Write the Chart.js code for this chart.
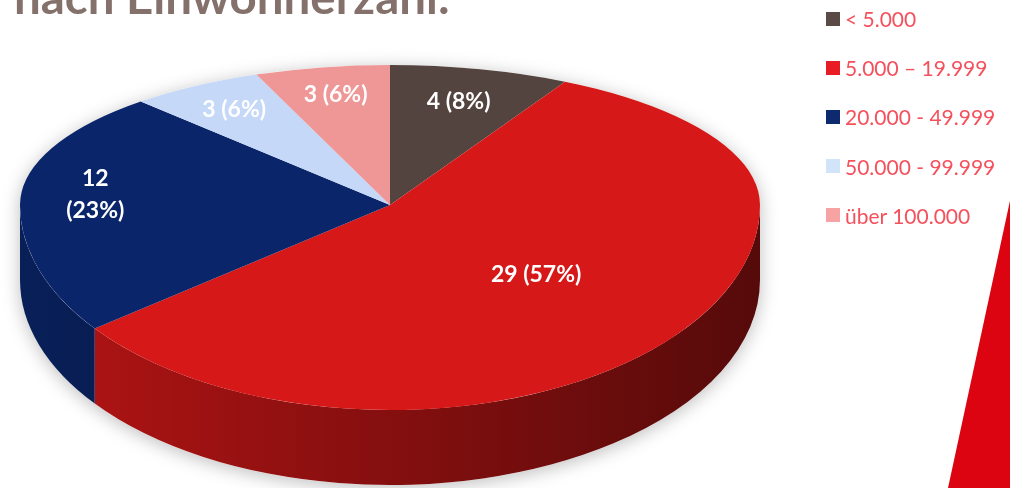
<!DOCTYPE html>
<html><head><meta charset="utf-8">
<script src="https://cdn.jsdelivr.net/npm/chart.js@4.4.1/dist/chart.umd.min.js"></script>
<style>
html,body{margin:0;padding:0;background:#fff;}
#wrap{position:relative;width:1010px;height:488px;overflow:hidden;background:#fff;}
#c{position:absolute;left:0;top:0;}
#title{position:absolute;left:0;top:0;}
#legend{position:absolute;left:826px;top:0;width:184px;height:240px;font-family:Lato,'Open Sans',sans-serif;font-size:21px;color:#F4515D;}
.li{position:absolute;left:0;height:14px;display:flex;align-items:center;white-space:nowrap;}
.sw{width:14px;height:14px;margin-right:5px;flex:none;}
#deco{position:absolute;left:0;top:0;width:1010px;height:488px;clip-path:polygon(1011px 196px,1011px 488px,948px 488px);background:#DC0411;}
</style></head>
<body>
<div id="wrap">
  <canvas id="c" width="1010" height="488"></canvas>
  <svg id="title" width="1010" height="40"><text x="14" y="13.5" font-family="Lato" font-weight="700" font-size="46" fill="#85716C" textLength="436" lengthAdjust="spacingAndGlyphs">nach Einwohnerzahl:</text></svg>
  <div id="legend"></div>
  <div id="deco"></div>
</div>
<script>
// ---- data ----
const categories = ['< 5.000', '5.000 – 19.999', '20.000 - 49.999', '50.000 - 99.999', 'über 100.000'];
const counts = [4, 29, 12, 3, 3];
const percents = [8, 57, 23, 6, 6];

// ---- styles ----
const sliceColors = ['#54443F', '#D61818', '#0A2569', '#C5D8F8', '#EF9696'];
const legendColors = ['#5A4B47', '#E81C24', '#0D2A6E', '#D2E4FA', '#F7A3A3'];
const labelRadius = [0.76, 0.52, 0.80, 0.80, 0.80];
const labelWrap = [false, false, true, false, false];

// 3D geometry (screen)
const CX = 390, CY = 205, RX = 370, RY_BACK = 140, RY_FRONT = 205, DEPTH = 75;

// legend
const leg = document.getElementById('legend');
categories.forEach((c, i) => {
  const d = document.createElement('div');
  d.className = 'li';
  d.style.top = (11.7 + i * 49.1) + 'px';
  const s = document.createElement('span');
  s.className = 'sw'; s.style.background = legendColors[i];
  const t = document.createElement('span');
  t.textContent = c;
  d.appendChild(s); d.appendChild(t);
  leg.appendChild(d);
});

function shade(hex, f) {
  const n = parseInt(hex.slice(1), 16);
  const r = Math.round(((n >> 16) & 255) * f), g = Math.round(((n >> 8) & 255) * f), b = Math.round((n & 255) * f);
  return 'rgb(' + r + ',' + g + ',' + b + ')';
}
function geom(chart) { const a = chart.getDatasetMeta(0).data[0]; return { x: a.x, y: a.y, r: a.outerRadius }; }
function applyT(ctx, g, ry) { ctx.translate(CX, CY); ctx.scale(RX / g.r, ry / g.r); ctx.translate(-g.x, -g.y); }

const pie3d = {
  id: 'pie3d',
  beforeDatasetsDraw(chart) {
    const ctx = chart.ctx, meta = chart.getDatasetMeta(0), g = geom(chart);
    // soft shadow silhouette
    ctx.save();
    ctx.beginPath();
    ctx.ellipse(CX, CY + DEPTH, RX, RY_FRONT, 0, 0, Math.PI);
    ctx.lineTo(CX - RX, CY);
    ctx.ellipse(CX, CY, RX, RY_BACK, 0, Math.PI, 2 * Math.PI);
    ctx.closePath();
    ctx.shadowColor = 'rgba(0,0,0,0.26)'; ctx.shadowBlur = 18; ctx.shadowOffsetY = 3;
    ctx.fillStyle = '#fff'; ctx.fill();
    ctx.restore();
    // side walls
    meta.data.forEach((arc) => {
      const a0 = Math.max(arc.startAngle, 0), a1 = Math.min(arc.endAngle, Math.PI);
      if (a1 <= a0) return;
      const col = arc.options.backgroundColor;
      const grad = ctx.createLinearGradient(CX - RX, 0, CX + RX, 0);
      grad.addColorStop(0, shade(col, 0.84));
      grad.addColorStop(0.5, shade(col, 0.62));
      grad.addColorStop(1, shade(col, 0.40));
      ctx.save();
      ctx.beginPath();
      ctx.ellipse(CX, CY, RX, RY_FRONT, 0, a0, a1);
      ctx.ellipse(CX, CY + DEPTH, RX, RY_FRONT, 0, a1, a0, true);
      ctx.closePath();
      ctx.fillStyle = grad; ctx.fill();
      ctx.restore();
    });
    // back half of the top face (drawn by Chart.js)
    ctx.save();
    ctx.beginPath(); ctx.rect(0, 0, chart.width, CY); ctx.clip();
    applyT(ctx, g, RY_BACK);
  },
  afterDatasetsDraw(chart) {
    const ctx = chart.ctx, meta = chart.getDatasetMeta(0), g = geom(chart);
    ctx.restore();
    // front half of the top face
    ctx.save();
    ctx.beginPath(); ctx.rect(0, CY, chart.width, chart.height - CY); ctx.clip();
    applyT(ctx, g, RY_FRONT);
    meta.data.forEach(a => a.draw(ctx, chart.chartArea));
    ctx.restore();
    // data labels
    ctx.save();
    ctx.fillStyle = '#fff';
    ctx.font = 'bold 23px Lato, "Open Sans", sans-serif';
    ctx.textAlign = 'center'; ctx.textBaseline = 'middle';
    meta.data.forEach((arc, i) => {
      const mid = (arc.startAngle + arc.endAngle) / 2, f = labelRadius[i];
      const s = Math.sin(mid);
      const x = CX + RX * f * Math.cos(mid);
      const y = CY + (s < 0 ? RY_BACK : RY_FRONT) * f * s;
      const lines = labelWrap[i] ? [String(counts[i]), '(' + percents[i] + '%)'] : [counts[i] + ' (' + percents[i] + '%)'];
      lines.forEach((t, k) => ctx.fillText(t, x, y + (k - (lines.length - 1) / 2) * 32));
    });
    ctx.restore();
  }
};

new Chart(document.getElementById('c'), {
  type: 'pie',
  data: {
    labels: categories,
    datasets: [{ data: counts, backgroundColor: sliceColors, borderWidth: 0, clip: false }]
  },
  options: {
    responsive: false,
    animation: false,
    events: [],
    layout: { padding: 0 },
    plugins: { legend: { display: false }, tooltip: { enabled: false } }
  },
  plugins: [pie3d]
});
</script>
</body></html>
